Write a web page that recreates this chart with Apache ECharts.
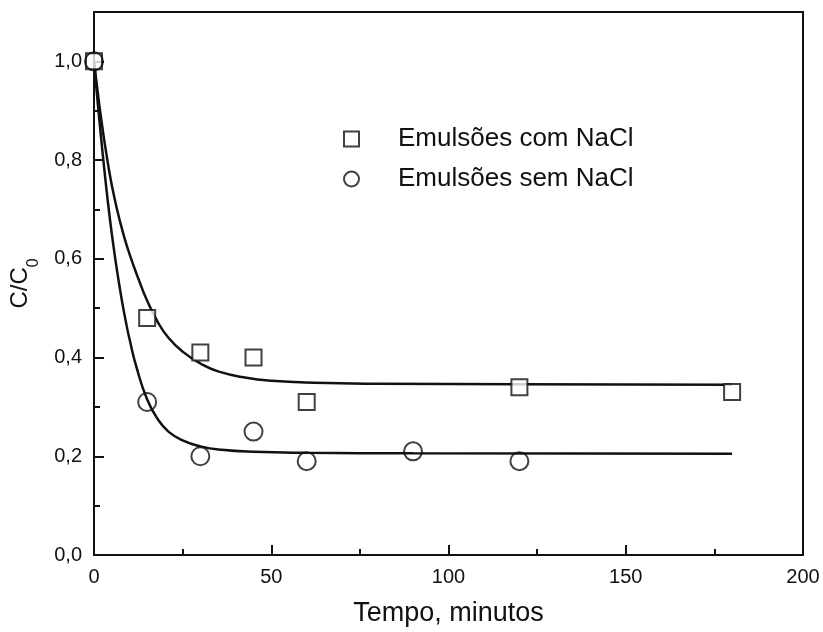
<!DOCTYPE html>
<html>
<head>
<meta charset="utf-8">
<script src="https://cdn.jsdelivr.net/npm/echarts@6/dist/echarts.min.js"></script>
<style>html,body{margin:0;padding:0;background:#fff;}#c{width:823px;height:632px;}</style>
</head>
<body>
<div id="c"></div>
<script>
// Measured points
const comNaCl = [[0,1.0],[15,0.48],[30,0.41],[45,0.40],[60,0.31],[120,0.34],[180,0.33]];
const semNaCl = [[0,1.0],[15,0.31],[30,0.20],[45,0.25],[60,0.19],[90,0.21],[120,0.19]];
// Fitted curves
const fitCom = [[0,1.0],[1,0.94],[2,0.885],[3,0.835],[4,0.79],[5,0.75],[6.5,0.70],[8.3,0.65],[10,0.61],[12.5,0.56],[15,0.515],[18,0.472],[21,0.44],[25,0.412],[30,0.388],[35,0.372],[43,0.359],[50,0.353],[62,0.349],[80,0.347],[120,0.346],[180,0.345]];
const fitSem = [[0,1.0],[1,0.92],[2,0.845],[3,0.775],[4,0.71],[5,0.652],[6,0.60],[7,0.553],[8,0.51],[9,0.472],[10,0.438],[12,0.38],[15,0.315],[18,0.275],[21,0.25],[25,0.232],[30,0.22],[36,0.213],[45,0.209],[60,0.207],[90,0.206],[180,0.205]];
const xTicks = [0,50,100,150,200];
const yTicks = [0,0.2,0.4,0.6,0.8,1.0];
const names = ['Emulsões com NaCl','Emulsões sem NaCl'];

const chart = echarts.init(document.getElementById('c'));
const ink = '#111';
const font = 'Liberation Sans, Arial, sans-serif';
chart.setOption({
  animation: false,
  backgroundColor: '#fff',
  textStyle: {fontFamily: font, color: ink},
  grid: {left: 92, right: 20, top: 12, bottom: 77, show: true, borderColor: ink, borderWidth: 2, backgroundColor: 'transparent'},
  legend: {
    orient: 'vertical', left: 338, top: 121, itemGap: 14,
    itemWidth: 15, itemHeight: 15,
    data: names,
    textStyle: {fontSize: 26, color: ink, fontFamily: font, padding: [0,0,0,34]}
  },
  xAxis: {
    type: 'value', min: xTicks[0], max: xTicks[xTicks.length-1], interval: 50,
    name: 'Tempo, minutos', nameLocation: 'middle', nameGap: 45,
    nameTextStyle: {fontSize: 27, color: ink, fontFamily: font},
    axisLine: {lineStyle: {color: ink, width: 2}},
    axisTick: {inside: true, length: 10, lineStyle: {color: ink, width: 2}},
    minorTick: {show: true, splitNumber: 2, length: 6, lineStyle: {color: ink, width: 2}},
    axisLabel: {fontSize: 20, color: ink, margin: 12, fontFamily: font},
    splitLine: {show: false}
  },
  yAxis: [{
    type: 'value', min: 0, max: 1.1, interval: 0.2,
    name: '{a|C/C}{s|0}', nameLocation: 'middle', nameGap: 60, nameRotate: 90,
    nameTextStyle: {rich: {
      a: {fontSize: 24, color: ink, fontFamily: font, lineHeight: 28},
      s: {fontSize: 16, color: ink, fontFamily: font, verticalAlign: 'bottom', padding: [0,0,-8,0]}
    }},
    axisLine: {lineStyle: {color: ink, width: 2}},
    axisTick: {inside: true, length: 10, lineStyle: {color: ink, width: 2}},
    axisLabel: {fontSize: 20, color: ink, margin: 12, fontFamily: font, showMaxLabel: false,
      formatter: v => (yTicks.some(t => Math.abs(t - v) < 1e-9) ? v.toFixed(1).replace('.', ',') : '')},
    splitLine: {show: false}
  }, {
    type: 'value', min: 0, max: 1.1, interval: 0.1, position: 'left',
    axisLine: {show: false},
    axisTick: {inside: true, length: 6, lineStyle: {color: ink, width: 2}},
    axisLabel: {show: false}, splitLine: {show: false}
  }],
  series: [
    {type: 'line', data: fitCom, showSymbol: false, smooth: 0.5, lineStyle: {color: ink, width: 2.5}, silent: true, z: 2},
    {type: 'line', data: fitSem, showSymbol: false, smooth: 0.5, lineStyle: {color: ink, width: 2.5}, silent: true, z: 2},
    {name: names[0], type: 'scatter', data: comNaCl, symbol: 'rect', symbolSize: 16,
      itemStyle: {color: '#fff', borderColor: ink, borderWidth: 2}, z: 3},
    {name: names[1], type: 'scatter', data: semNaCl, symbol: 'circle', symbolSize: 18,
      itemStyle: {color: 'rgba(255,255,255,0)', borderColor: ink, borderWidth: 2}, z: 4}
  ]
});
</script>
</body>
</html>
